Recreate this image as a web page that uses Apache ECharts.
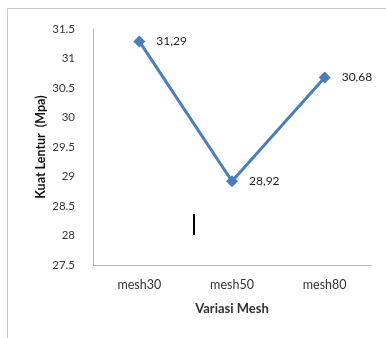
<!DOCTYPE html>
<html><head><meta charset="utf-8">
<script src="https://cdn.jsdelivr.net/npm/echarts@6/dist/echarts.min.js"></script>
<style>html,body{margin:0;padding:0;background:#fff}#c{width:386px;height:338px}</style>
</head><body><div id="c"></div>
<script>
const categories = ['mesh30', 'mesh50', 'mesh80'];
const values = [31.29, 28.92, 30.68];
const valueLabels = ['31,29', '28,92', '30,68'];
const yTicks = [27.5, 28, 28.5, 29, 29.5, 30, 30.5, 31, 31.5];

const chart = echarts.init(document.getElementById('c'), null, {renderer: 'canvas'});
const font = 'Lato, "Open Sans", sans-serif';
chart.setOption({
  animation: false,
  backgroundColor: '#fff',
  graphic: [
    {type: 'rect', shape: {x: 7.5, y: 8.5, width: 400, height: 400}, style: {fill: 'none', stroke: '#c8c8c8', lineWidth: 1}, silent: true},
    {type: 'rect', shape: {x: 193, y: 214, width: 2, height: 21}, style: {fill: '#000'}, silent: true}
  ],
  grid: {left: 93, right: 15, top: 29, bottom: 73, containLabel: false},
  xAxis: {
    type: 'category', data: categories, boundaryGap: true,
    axisLine: {lineStyle: {color: '#b3b3b3', width: 1}},
    axisTick: {show: false},
    axisLabel: {color: '#333', fontFamily: font, fontSize: 12.5, margin: 13},
    name: 'Variasi Mesh', nameLocation: 'middle', nameGap: 37, nameMoveOverlap: false,
    nameTextStyle: {color: '#333', fontFamily: font, fontSize: 13, fontWeight: 'bold'}
  },
  yAxis: {
    type: 'value', min: yTicks[0], max: yTicks[yTicks.length - 1], interval: 0.5,
    axisLine: {show: true, lineStyle: {color: '#b3b3b3', width: 1}},
    axisTick: {show: false},
    splitLine: {show: false},
    axisLabel: {color: '#333', fontFamily: font, fontSize: 11.5, margin: 18},
    name: 'Kuat Lentur  (Mpa)', nameLocation: 'middle', nameGap: 46, nameRotate: 90, nameMoveOverlap: false,
    nameTextStyle: {color: '#111', fontFamily: font, fontSize: 12.5, fontWeight: 'bold'}
  },
  series: [{
    type: 'line', data: values,
    lineStyle: {color: '#4a7ebb', width: 3},
    itemStyle: {color: '#4a7ebb'},
    symbol: 'diamond', symbolSize: 12,
    label: {show: true, position: 'right', distance: 11, color: '#222', fontFamily: font, fontSize: 12,
      formatter: p => valueLabels[p.dataIndex]}
  }]
});
</script></body></html>
